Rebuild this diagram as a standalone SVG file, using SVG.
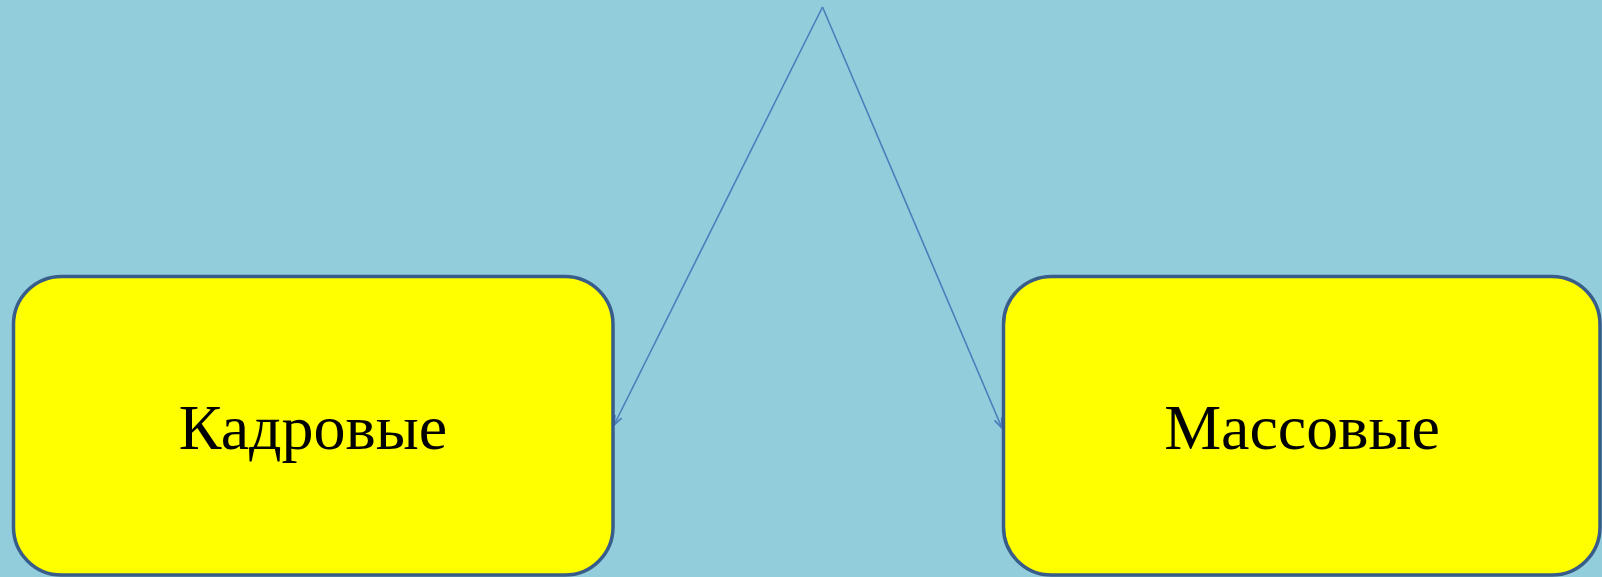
<svg xmlns="http://www.w3.org/2000/svg" width="1602" height="577" viewBox="0 0 1602 577">
<style>
.box{fill:#FFFF00;stroke:#385D8A;stroke-width:3.5}
.lbl{font-family:"Liberation Serif","Times New Roman",serif;font-size:64px;fill:#000;text-anchor:middle}
.con{fill:none;stroke:#4A7EBB;stroke-width:1.6}
</style>
<defs>
<marker id="ah" viewBox="0 0 10 10" refX="9" refY="5" markerWidth="11" markerHeight="11" orient="auto" markerUnits="userSpaceOnUse">
<path d="M0,1.5 L9,5 L0,8.5" fill="none" stroke="#4A7EBB" stroke-width="1.6"/>
</marker>
</defs>
<rect width="1602" height="577" fill="#92CDDC"/>
<g id="connectors">
<line class="con" x1="822.5" y1="7" x2="614" y2="425" marker-end="url(#ah)"/>
<line class="con" x1="822.5" y1="7" x2="1002" y2="428" marker-end="url(#ah)"/>
</g>
<g id="node-kadrovye">
<rect class="box" x="13.5" y="276.5" width="599.5" height="298.5" rx="48" ry="48"/>
<text class="lbl" x="313" y="449">Кадровые</text>
</g>
<g id="node-massovye">
<rect class="box" x="1003.5" y="276.5" width="596.5" height="298.5" rx="48" ry="48"/>
<text class="lbl" x="1302" y="449">Массовые</text>
</g>
</svg>
